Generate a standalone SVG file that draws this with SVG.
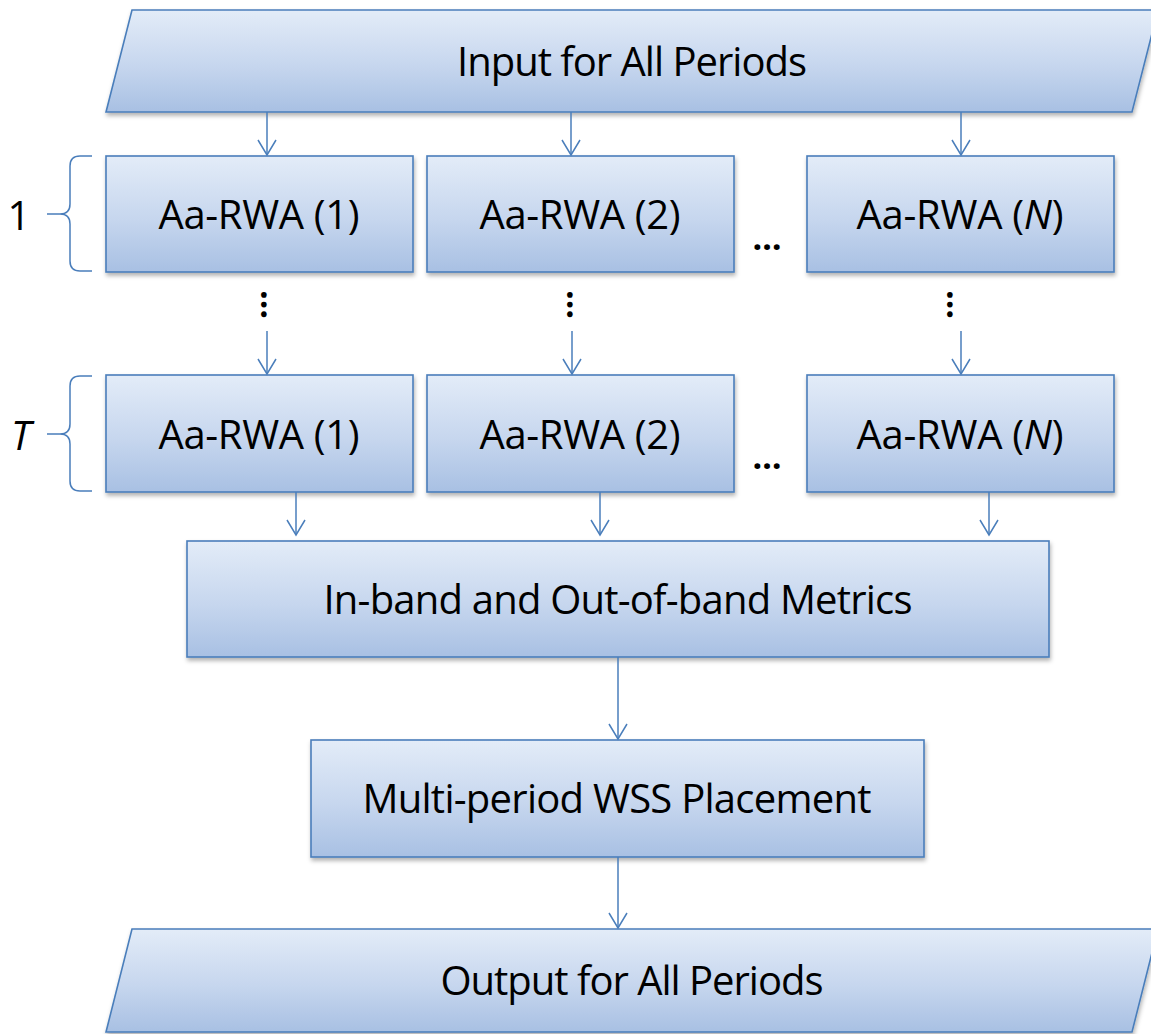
<svg xmlns="http://www.w3.org/2000/svg" width="1151" height="1034" viewBox="0 0 1151 1034">
<style>
.node{fill:url(#g);stroke:#4a7ebb;stroke-width:1.6;filter:url(#sh)}
.lbl{font-family:"Open Sans","Liberation Sans",sans-serif;font-size:40px;fill:#000;text-anchor:middle}
.con{stroke:#4a7ebb;stroke-width:1.5;fill:none;marker-end:url(#ah)}
.brace{stroke:#4a7ebb;stroke-width:1.5;fill:none}
.dots{font-family:"Open Sans","Liberation Sans",sans-serif;font-size:34px;font-weight:bold;fill:#000;text-anchor:middle}
</style>
<defs>
<linearGradient id="g" x1="0" y1="0" x2="0" y2="1">
<stop offset="0" stop-color="#e3ecf8"/>
<stop offset="0.55" stop-color="#c6d6ee"/>
<stop offset="1" stop-color="#a8c0e3"/>
</linearGradient>
<filter id="sh" x="-5%" y="-10%" width="110%" height="130%">
<feDropShadow dx="1" dy="3" stdDeviation="2" flood-color="#000" flood-opacity="0.3"/>
</filter>
<marker id="ah" viewBox="-16 -10 20 20" refX="0" refY="0" markerWidth="20" markerHeight="20" markerUnits="userSpaceOnUse" orient="auto" overflow="visible">
<path d="M-15,-9 L0,0 L-15,9" fill="none" stroke="#4a7ebb" stroke-width="1.5"/>
</marker>
</defs>
<rect width="1151" height="1034" fill="#fff"/>

<g id="input">
<polygon class="node" points="132,10 1158,10 1132,112 106,112"/>
<text class="lbl" x="632" y="76" textLength="350">Input for All Periods</text>
</g>

<g id="r1-1"><rect class="node" x="106" y="156" width="307" height="116"/><text class="lbl" x="259" y="229" textLength="201">Aa-RWA (1)</text></g>
<g id="r1-2"><rect class="node" x="427" y="156" width="307" height="116"/><text class="lbl" x="580" y="229" textLength="201">Aa-RWA (2)</text></g>
<g id="r1-n"><rect class="node" x="807" y="156" width="307" height="116"/><text class="lbl" x="960" y="229" textLength="207">Aa-RWA (<tspan font-style="italic">N</tspan>)</text></g>

<g id="rt-1"><rect class="node" x="106" y="375" width="307" height="117"/><text class="lbl" x="259" y="449" textLength="201">Aa-RWA (1)</text></g>
<g id="rt-2"><rect class="node" x="427" y="375" width="307" height="117"/><text class="lbl" x="580" y="449" textLength="201">Aa-RWA (2)</text></g>
<g id="rt-n"><rect class="node" x="807" y="375" width="307" height="117"/><text class="lbl" x="960" y="449" textLength="207">Aa-RWA (<tspan font-style="italic">N</tspan>)</text></g>

<g id="metrics"><rect class="node" x="187" y="541" width="862" height="116"/><text class="lbl" x="618" y="614" textLength="589">In-band and Out-of-band Metrics</text></g>
<g id="wss"><rect class="node" x="311" y="740" width="613" height="117"/><text class="lbl" x="617" y="813" textLength="509">Multi-period WSS Placement</text></g>

<g id="output">
<polygon class="node" points="132,929 1158,929 1132,1032 106,1032"/>
<text class="lbl" x="632" y="995" textLength="383">Output for All Periods</text>
</g>

<g id="period-labels">
<path class="brace" d="M92,156 L80,156 Q70,156 70,166 L70,204 Q70,214 60,214 L47,214 M60,214 Q70,214 70,224 L70,261 Q70,271 80,271 L92,271"/>
<text class="lbl" x="19" y="230">1</text>
<path class="brace" d="M92,376 L80,376 Q70,376 70,386 L70,424 Q70,434 60,434 L47,434 M60,434 Q70,434 70,444 L70,481 Q70,491 80,491 L92,491"/>
<text class="lbl" x="21" y="450" font-style="italic">T</text>
</g>

<g id="ellipses">
<text class="dots" x="767" y="250">…</text>
<text class="dots" x="767" y="469">…</text>
<text class="dots" transform="translate(260.5,304.5) rotate(90)">…</text>
<text class="dots" transform="translate(566.5,304.5) rotate(90)">…</text>
<text class="dots" transform="translate(946.5,304.5) rotate(90)">…</text>
</g>

<g id="connectors">
<line class="con" x1="267" y1="112" x2="267" y2="155"/>
<line class="con" x1="571" y1="112" x2="571" y2="155"/>
<line class="con" x1="961" y1="112" x2="961" y2="155"/>
<line class="con" x1="267" y1="331" x2="267" y2="374"/>
<line class="con" x1="572" y1="331" x2="572" y2="374"/>
<line class="con" x1="961" y1="331" x2="961" y2="374"/>
<line class="con" x1="296" y1="492" x2="296" y2="535"/>
<line class="con" x1="600" y1="492" x2="600" y2="535"/>
<line class="con" x1="989" y1="492" x2="989" y2="535"/>
<line class="con" x1="618" y1="657" x2="618" y2="739"/>
<line class="con" x1="618" y1="857" x2="618" y2="928"/>
</g>
</svg>
